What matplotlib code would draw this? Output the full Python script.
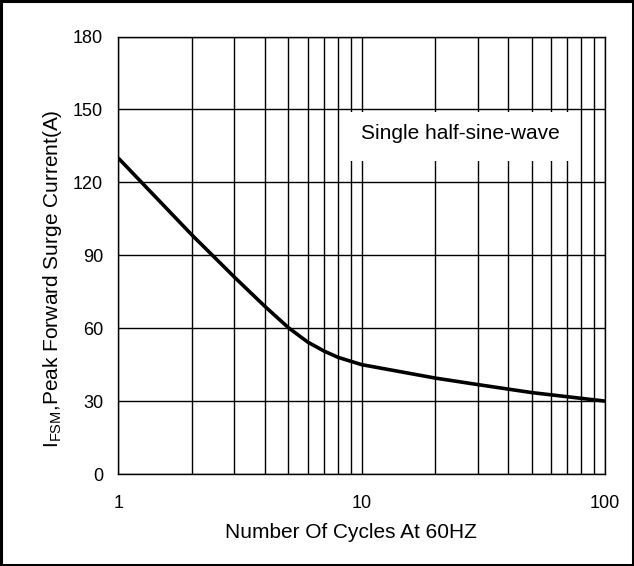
import matplotlib
matplotlib.use('Agg')
import matplotlib.pyplot as plt
from matplotlib.patches import Rectangle
from matplotlib.ticker import LogLocator, NullFormatter, FixedLocator

plt.rcParams['font.family'] = ['Liberation Sans', 'DejaVu Sans']
plt.rcParams['mathtext.fontset'] = 'custom'
plt.rcParams['mathtext.rm'] = 'Liberation Sans'

# data
cycles = [1, 2, 3, 4, 5, 6, 7, 8, 10, 20, 30, 50, 70, 100]
surge_current = [130, 98.5, 81, 69, 60.2, 54.3, 50.6, 48, 45, 39.5, 36.8, 33.5, 31.8, 30]

y_ticks = [0, 30, 60, 90, 120, 150, 180]
x_ticks = [1, 10, 100]
x_tick_labels = ['1', '10', '100']

xlabel = 'Number Of Cycles At 60HZ'
ylabel = r'I$_{\mathregular{FSM}}$,Peak Forward Surge Current(A)'
note = 'Single half-sine-wave'

fig = plt.figure(figsize=(6.34, 5.66), dpi=100)
ax = fig.add_axes([0.1866, 0.1625, 0.7677, 0.773])

ax.set_xscale('log')
ax.set_xlim(1, 100)
ax.set_ylim(0, 180)
ax.xaxis.set_major_locator(FixedLocator(x_ticks))
ax.set_xticklabels(x_tick_labels)
ax.xaxis.set_minor_locator(LogLocator(base=10, subs=range(2, 10)))
ax.xaxis.set_minor_formatter(NullFormatter())
ax.set_yticks(y_ticks)

ax.grid(True, which='both', axis='x', color='black', linewidth=1.0, zorder=1)
ax.grid(True, which='major', axis='y', color='black', linewidth=1.0, zorder=1)
ax.set_axisbelow(True)

ax.tick_params(axis='both', which='both', length=0, labelsize=13)
ax.tick_params(axis='x', pad=15)
ax.tick_params(axis='y', pad=11)
for s in ax.spines.values():
    s.set_linewidth(1.0)
    s.set_color('black')

# white box behind the note, covering grid lines
ax.add_patch(Rectangle((0.466, 0.715), 0.472, 0.112, transform=ax.transAxes,
                       facecolor='white', edgecolor='none', zorder=2))
ax.text(0.702, 0.779, note, transform=ax.transAxes, fontsize=15,
        ha='center', va='center', zorder=3)

ax.plot(cycles, surge_current, color='black', linewidth=2.6, zorder=4,
        solid_capstyle='butt')

ax.set_xlabel(xlabel, fontsize=15)
ax.set_ylabel(ylabel, fontsize=15)
ax.xaxis.set_label_coords(0.478, -0.112)
ax.yaxis.set_label_coords(-0.112, 0.446)

# outer frame of the figure
fig.patches.append(Rectangle((0.002, 0.002), 0.996, 0.996, transform=fig.transFigure,
                             fill=False, edgecolor='black', linewidth=2.2))

fig.savefig('out.png', dpi=100)
